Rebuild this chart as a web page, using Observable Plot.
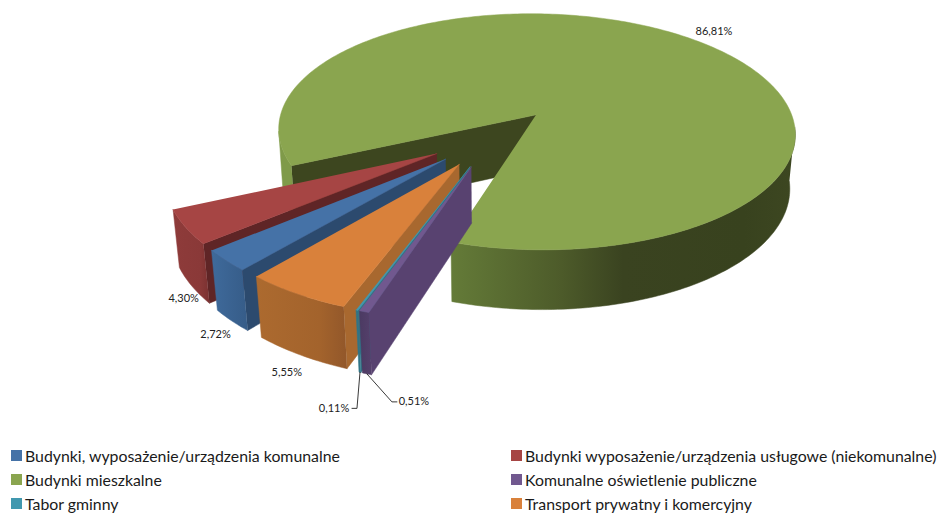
<!DOCTYPE html>
<html lang="pl">
<head>
<meta charset="utf-8">
<script src="https://cdn.jsdelivr.net/npm/d3@7"></script>
<script src="https://cdn.jsdelivr.net/npm/@observablehq/plot@0.6"></script>
<style>
  html, body { margin: 0; background: #fff; }
  #chart { width: 939px; height: 514px; position: relative; overflow: hidden; font-family: Lato, sans-serif; }
  #chart svg { display: block; background: #fff; }
  #legend { position: absolute; left: 0; top: 444px; width: 939px; height: 70px; color: #1a1a1a; font-size: 15.85px; }
  .item { position: absolute; white-space: nowrap; line-height: 20px; }
  .sw { position: absolute; left: -14px; top: 4px; width: 11px; height: 11px; }
</style>
</head>
<body>
<div id="chart"></div>
<script>
const categories = [
  "Budynki, wyposażenie/urządzenia komunalne",
  "Budynki wyposażenie/urządzenia usługowe (niekomunalne)",
  "Budynki mieszkalne",
  "Komunalne oświetlenie publiczne",
  "Tabor gminny",
  "Transport prywatny i komercyjny"
];
const shares = [2.72, 4.30, 86.81, 0.51, 0.11, 5.55];

const topColors = ["#4572A7", "#A64544", "#8AA54F", "#71588F", "#4198AF", "#D9813B"];
const cutColors = ["#2C4A6E", "#5F2526", "#3D461F", "#584270", "#2F7486", "#A8682F"];
const wallStops = [
  [[0, "#3F6A9B"], [1, "#365C88"]],
  [[0, "#8E3B3A"], [0.75, "#8A3938"], [1, "#7A3131"]],
  [[0, "#647B38"], [0.32, "#4D5B2A"], [0.5, "#3A4320"], [0.85, "#38421E"], [1, "#3D4721"]],
  [[0, "#4B3A62"], [1, "#55406C"]],
  [[0, "#2F7486"], [1, "#2F7486"]],
  [[0, "#AC6A2F"], [0.7, "#A3632C"], [1, "#92572A"]]
];
const greenLeftWall = "#7F9A49";

// Perspective model of the exploded 3D pie
const view = {cx: 493, cy: 136.5, f: 1578, d: 6.01, tilt: 27.7, thick: 0.24, explode: 0.25, first: 220.3};
const rad = Math.PI / 180;
const project = (X, Y, Z) => {
  const s = Math.sin(view.tilt * rad), c = Math.cos(view.tilt * rad);
  const v = Y * s + Z * c, w = Y * c - Z * s, k = view.f / (view.d + w);
  return {x: view.cx + k * X, y: view.cy - k * v};
};
let running = view.first;
const slices = shares.map((share, i) => {
  const a0 = running, a1 = running + share * 3.6;
  running = a1;
  const mid = (a0 + a1) / 2 * rad;
  const ox = view.explode * Math.sin(mid), oy = view.explode * Math.cos(mid);
  const rim = (deg, z, r = 1) => project(ox + r * Math.sin(deg * rad), oy + r * Math.cos(deg * rad), z);
  const arc = (z, from = a0, to = a1) =>
    d3.range(0, Math.ceil(to - from) + 1).map(t => rim(Math.min(from + t, to), z));
  return {i, a0, a1, midDeg: (a0 + a1) / 2, rim, arc};
});

const apex = (s, z) => s.rim(0, z, 0);
const wallPoly = (s, from = s.a0, to = s.a1) => [...s.arc(0, from, to), ...s.arc(-view.thick, from, to).reverse()];
const cutPoly = (s, deg) => [apex(s, 0), s.rim(deg, 0), s.rim(deg, -view.thick), apex(s, -view.thick)];
const topPoly = s => [apex(s, 0), ...s.arc(0)];
const face = (pts, fill) => Plot.line(pts, {x: "x", y: "y", fill, stroke: fill, strokeWidth: 0.5});

const defs = () => {
  const el = d3.create("svg:defs");
  wallStops.forEach((stops, i) => {
    const g = el.append("svg:linearGradient").attr("id", `wall${i}`).attr("x1", 0).attr("x2", 1).attr("y1", 0).attr("y2", 0);
    stops.forEach(([o, col]) => g.append("svg:stop").attr("offset", o).attr("stop-color", col));
  });
  return el.node();
};

const green = slices[2];
const paintOrder = [1, 0, 5, 4, 3];
const sliceMarks = s => [
  face(cutPoly(s, s.a0), cutColors[s.i]),
  face(wallPoly(s), `url(#wall${s.i})`),
  face(topPoly(s), topColors[s.i])
];

// Data labels are placed relative to the foot of each slice's rim
const labelOffsets = [[-16, 14], [-8, 13], [28, -6], [47, 28], [-26, 36], [-14, 17]];
const labels = slices.map(s => {
  const at = s.i === 2 ? s.rim(s.midDeg, 0, 1) : s.rim(s.midDeg, -view.thick);
  const [dx, dy] = labelOffsets[s.i];
  const text = shares[s.i].toFixed(2).replace(".", ",") + "%";
  return {x: at.x + dx, y: at.y + dy, text, foot: at};
});
const leader = (i, ex, ey) => {
  const l = labels[i];
  const side = i === 3 ? -17 : 18;
  return [l.foot, {x: l.x + side + ex, y: l.y + ey}, {x: l.x + side, y: l.y + ey}];
};

const plot = Plot.plot({
  width: 939, height: 444, margin: 0,
  x: {domain: [0, 939], range: [0, 939], axis: null},
  y: {domain: [0, 444], range: [0, 444], axis: null},
  marks: [
    defs,
    face(cutPoly(green, green.a0), cutColors[2]),
    face(wallPoly(green, green.a0, 262), greenLeftWall),
    face(wallPoly(green, 456, green.a1), "url(#wall2)"),
    face(topPoly(green), topColors[2]),
    ...paintOrder.flatMap(i => sliceMarks(slices[i])),
    Plot.line(leader(4, 5, 0), {x: "x", y: "y", stroke: "#222", strokeWidth: 0.9}),
    Plot.line(leader(3, -5, 0), {x: "x", y: "y", stroke: "#222", strokeWidth: 0.9}),
    Plot.text(labels, {x: "x", y: "y", text: "text", fontFamily: "Lato, sans-serif", fontSize: 11, fill: "#222"})
  ]
});
const chart = document.getElementById("chart");
chart.appendChild(plot);

const legend = document.createElement("div");
legend.id = "legend";
categories.forEach((name, i) => {
  const col = i % 2, row = Math.floor(i / 2);
  const item = document.createElement("div");
  item.className = "item";
  item.style.left = (col ? 525 : 25) + "px";
  item.style.top = (2 + row * 24) + "px";
  const sw = document.createElement("span");
  sw.className = "sw";
  sw.style.background = topColors[i];
  item.appendChild(sw);
  item.appendChild(document.createTextNode(name));
  legend.appendChild(item);
});
chart.appendChild(legend);
</script>
</body>
</html>
